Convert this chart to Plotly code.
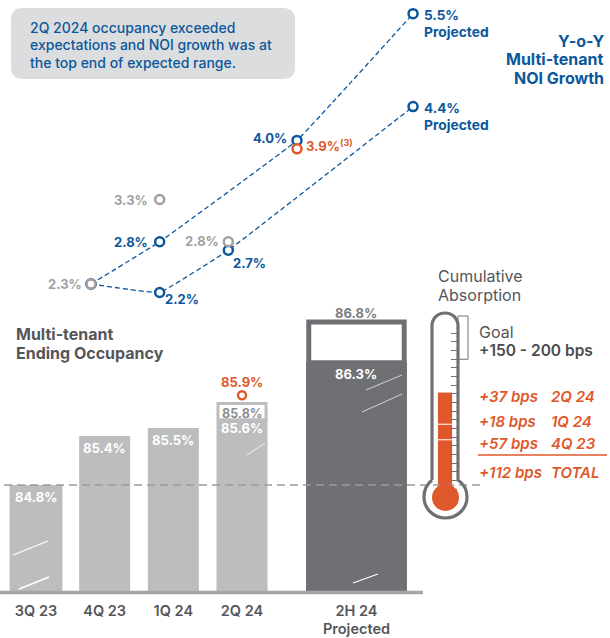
import plotly.graph_objects as go

# ---------- data ----------
periods = ["3Q 23", "4Q 23", "1Q 24", "2Q 24", "2H 24<br>Projected"]
occupancy = [84.8, 85.4, 85.5, 85.6, 86.3]
occ_guidance_2q = 85.8
occ_actual_2q = 85.9
occ_projected_high = 86.8

noi_upper = [2.3, 2.8, 4.0, 5.5]
noi_lower = [2.3, 2.2, 2.7, 4.4]
noi_grey_q = [3.3, 2.8]
noi_actual_2q = 3.9

absorption_bps = [57, 18, 37]
goal_bps = [150, 200]
absorption_rows = [("+37 bps", "2Q 24"), ("+18 bps", "1Q 24"), ("+57 bps", "4Q 23"), ("+112 bps", "TOTAL")]

# ---------- style ----------
NAVY = "#0b579c"
GREY = "#a19fa0"
BAR = "#bcbdbf"
DARK = "#6f7073"
ORANGE = "#df582b"
TXT = "#55565a"
FONT = "Inter"

W, H = 610, 638
slot = [0, 1, 2, 3, 4.667]          # horizontal slots of the occupancy columns
noi_slot = [0, 1, 2, 3.0, 4.69]     # horizontal slots of the NOI points

fig = go.Figure()

# occupancy columns
fig.add_trace(go.Bar(x=slot, y=[v - 83.5 for v in occupancy], base=83.5,
                     width=[0.77, 0.743, 0.743, 0.743, 1.47],
                     marker=dict(color=[BAR, BAR, BAR, BAR, DARK], line_width=0)))
fig.add_trace(go.Bar(x=[slot[3]], y=[occ_guidance_2q - occupancy[3]], base=occupancy[3], width=0.7,
                     marker=dict(color="white", line=dict(color=BAR, width=3))))
fig.add_trace(go.Bar(x=[slot[4]], y=[occ_projected_high - occupancy[4]], base=occupancy[4], width=1.39,
                     marker=dict(color="white", line=dict(color=DARK, width=5))))
fig.add_trace(go.Scatter(x=[slot[3]], y=[occ_actual_2q], mode="markers",
                         marker=dict(size=8, color="white", line=dict(color=ORANGE, width=2.4))))

# NOI lines
upper_x = [noi_slot[0], noi_slot[1], noi_slot[3], noi_slot[4]]
lower_x = [noi_slot[0], noi_slot[1], noi_slot[2], noi_slot[4]]
for xs, series in ((upper_x, noi_upper), (lower_x, noi_lower)):
    fig.add_trace(go.Scatter(x=xs, y=series, xaxis="x2", yaxis="y2", mode="lines+markers",
                             line=dict(color=NAVY, width=1.3, dash="5px,3px", shape="spline", smoothing=0.2),
                             marker=dict(size=9, color="white", line=dict(color=NAVY, width=2.5))))
fig.add_trace(go.Scatter(x=[noi_slot[1], noi_slot[2], noi_slot[0]], y=noi_grey_q + [noi_upper[0]],
                         xaxis="x2", yaxis="y2", mode="markers",
                         marker=dict(size=9, color="white", line=dict(color=GREY, width=2.5))))
fig.add_trace(go.Scatter(x=[noi_slot[3]], y=[noi_actual_2q], xaxis="x2", yaxis="y2", mode="markers",
                         marker=dict(size=9, color="white", line=dict(color=ORANGE, width=2.5))))

# absorption stack on the thermometer
base = 0
for v in absorption_bps:
    fig.add_trace(go.Bar(x=[445], y=[v], base=base, width=15, xaxis="x3", yaxis="y3",
                         marker=dict(color=ORANGE, line=dict(color="white", width=0.8))))
    base += v

shapes = []
def px_shape(**kw):
    shapes.append(dict(xref="x3", yref="y4", layer="above", **kw))

# callout box
shapes.append(dict(type="path", xref="x3", yref="y4", layer="below", fillcolor="#dcddde", line_width=0,
                   path="M23 8 L283 8 Q295 8 295 20 L295 67 Q295 79 283 79 L23 79 Q11 79 11 67 L11 20 Q11 8 23 8 Z"))
# baseline
px_shape(type="line", x0=0, x1=423, y0=592.5, y1=592.5, line=dict(color="#a5a6a9", width=3.5))
# reference dashed line at the 3Q 23 level
shapes.append(dict(type="line", xref="x3", yref="y", layer="above", x0=4, x1=480, y0=occupancy[0], y1=occupancy[0],
                   line=dict(color="#9a9a9c", width=1.5, dash="8px,5px")))
# scratches
for x0, y0, x1, y1, w in [(13, 555, 48, 541, 1.2), (19, 589, 49, 577, 1.8), (247, 455, 265, 443, 0.8),
                          (366, 390, 402, 375, 0.7), (362, 412, 402, 394, 0.7), (353, 583, 378, 574, 1.2)]:
    px_shape(type="line", x0=x0, y0=y0, x1=x1, y1=y1, line=dict(color="white", width=w))
# thermometer
px_shape(type="rect", x0=437.7, x1=452.3, y0=487, y1=500, fillcolor=ORANGE, line_width=0)
px_shape(type="circle", x0=432, x1=459, y0=484, y1=511, fillcolor=ORANGE, line_width=0)
px_shape(type="path", line=dict(color=DARK, width=3.2),
         path="M432 480 L432 326 C432 318 438 313 445 313 C452 313 458 318 458 326 L458 480 "
              "C464 484 467 490 467 497 C467 509 457 518 445.5 518 C434 518 424 509 424 497 C424 490 427 484 432 480")
# goal bracket
shapes.append(dict(type="rect", xref="x3", yref="y3", layer="above", x0=458, x1=468, y0=goal_bps[0], y1=goal_bps[1],
                   line=dict(color=DARK, width=1)))
# total rule
px_shape(type="line", x0=478, x1=607, y0=455, y1=455, line=dict(color=ORANGE, width=1.3))

annotations = []
def label(x, y, text, color=TXT, size=12.5, weight=600, align="left", style="normal"):
    annotations.append(dict(x=x, y=y, xref="x3", yref="y4", text=text, showarrow=False,
                            xanchor=align, yanchor="middle", borderpad=0,
                            font=dict(family=FONT, size=size, color=color, weight=weight, style=style)))
def data_label(x, y, text, dx, dy, color, align="center", xaxis="x2", yaxis="y2", size=13, weight=700):
    annotations.append(dict(x=x, y=y, xref=xaxis, yref=yaxis, text=text, showarrow=False,
                            xanchor=align, yanchor="middle", xshift=dx, yshift=dy, borderpad=0,
                            font=dict(family=FONT, size=size, color=color, weight=weight)))

for i, line in enumerate(["2Q 2024 occupancy exceeded", "expectations and NOI growth was at", "the top end of expected range."]):
    label(29, 27 + 17.5 * i, line, color=NAVY, size=14, weight=500)
for y, line in zip((41, 59, 78), ("Y-o-Y", "Multi-tenant", "NOI Growth")):
    label(605, y, line, color=NAVY, size=16, weight=700, align="right")
for y, line in zip((334, 353), ("Multi-tenant", "Ending Occupancy")):
    label(15, y, line, size=16, weight=700)
for y, line in zip((276, 295), ("Cumulative", "Absorption")):
    label(437, y, line, size=16, weight=400)
label(478, 332, "Goal", size=16, weight=400)
label(478, 350, "+150 - 200 bps", size=15.5, weight=600, color="#4b4c4f")
for y, (a, b) in zip((396, 421, 443, 472), absorption_rows):
    label(478, y, a, color=ORANGE, size=15, weight=600, style="italic")
    label(550, y, b, color=ORANGE, size=15, weight=600, style="italic")

# NOI labels
pct = lambda v: f"{v:.1f}%"
data_label(noi_slot[0], noi_upper[0], pct(noi_upper[0]), -8, 0, GREY, "right")
data_label(noi_slot[1], noi_upper[1], pct(noi_upper[1]), -11, 0, NAVY, "right")
data_label(noi_slot[1], noi_lower[1], pct(noi_lower[1]), 4, -6, NAVY, "left")
data_label(noi_slot[1], noi_grey_q[0], pct(noi_grey_q[0]), -11, 0, GREY, "right")
data_label(noi_slot[2], noi_grey_q[1], pct(noi_grey_q[1]), -8, 1, GREY, "right")
data_label(noi_slot[2], noi_lower[2], pct(noi_lower[2]), 4, -13, NAVY, "left")
data_label(noi_slot[3], noi_upper[2], pct(noi_upper[2]), -9, 2, NAVY, "right")
data_label(noi_slot[3], noi_actual_2q, pct(noi_actual_2q) + "<sup>(3)</sup>", 8, 3, ORANGE, "left")
for v in (noi_upper[3], noi_lower[3]):
    data_label(noi_slot[4], v, pct(v), 10, -1, NAVY, "left", size=13.5)
    data_label(noi_slot[4], v, "Projected", 10, -18, NAVY, "left", size=13.8)

# occupancy labels
for i in range(3):
    data_label(slot[i], occupancy[i], pct(occupancy[i]), 0, -12, "white", xaxis="x", yaxis="y")
data_label(slot[3], occupancy[3], pct(occupancy[3]), 0, -8, "white", xaxis="x", yaxis="y")
data_label(slot[3], occ_guidance_2q, pct(occ_guidance_2q), 0, -10.5, "#8b8c8f", xaxis="x", yaxis="y", size=12.5)
data_label(slot[3], occ_actual_2q, pct(occ_actual_2q), 0, 13, ORANGE, xaxis="x", yaxis="y")
data_label(slot[4], occupancy[4], pct(occupancy[4]), 0, -11, "white", xaxis="x", yaxis="y")
data_label(slot[4], occ_projected_high, pct(occ_projected_high), 0, 9, "#7d7e81", xaxis="x", yaxis="y")

# scales (chosen so the axes fill the canvas)
occ_scale = 81.54
noi_scale = 84.5
bps_scale = 0.865
step = 68.67

hidden = dict(visible=False, showgrid=False, zeroline=False, fixedrange=True)
fig.update_layout(
    width=W, height=H, margin=dict(l=0, r=0, t=0, b=0), autosize=False,
    paper_bgcolor="white", plot_bgcolor="rgba(0,0,0,0)", showlegend=False, barmode="overlay",
    shapes=shapes, annotations=annotations,
    xaxis=dict(range=[-36 / step, (W - 36) / step], anchor="free", position=(H - 594) / H, showgrid=False,
               zeroline=False, showline=False, ticks="", tickmode="array", tickvals=slot, ticktext=periods,
               tickfont=dict(family=FONT, size=14.5, color=TXT, weight=600), tickangle=0, ticklabelstandoff=6),
    yaxis=dict(range=[83.5 - (H - 591) / occ_scale, 83.5 + 591 / occ_scale], **hidden),
    xaxis2=dict(range=[-91 / step, (W - 91) / step], overlaying="x", anchor="y2", **hidden),
    yaxis2=dict(range=[2.2 - (H - 292.5) / noi_scale, 2.2 + 292.5 / noi_scale], overlaying="y", anchor="x2", **hidden),
    xaxis3=dict(range=[0, W], overlaying="x", anchor="y3", **hidden),
    yaxis3=dict(range=[-(H - 489) / bps_scale, 489 / bps_scale], overlaying="y", anchor="free",
                position=457 / W, side="right", showgrid=False, zeroline=False, showline=False, showticklabels=False,
                ticks="inside", ticklen=6, tickwidth=1, tickcolor=DARK, tickmode="array",
                tickvals=[b for b in range(0, 190, 10)], fixedrange=True),
    yaxis4=dict(range=[H, 0], overlaying="y", anchor="x3", **hidden),
)

fig.write_html("out.html", config=dict(displayModeBar=False),
               post_script="document.body.style.margin='0';document.documentElement.style.overflow='hidden';")
